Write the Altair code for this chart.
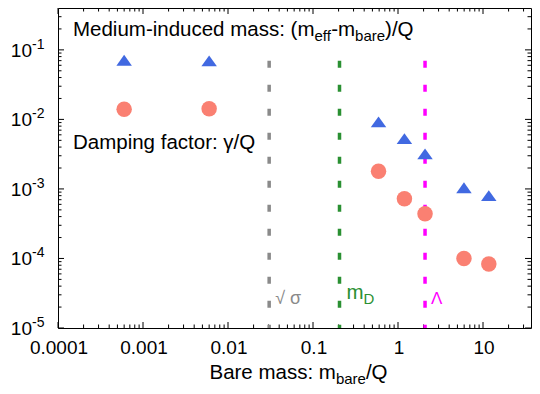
import math
import altair as alt
import pandas as pd

# ---------------- data ----------------
mbare = [6.0e-4, 6.0e-3, 0.59, 1.19, 2.08, 5.97, 11.7]
mass_shift = [0.071, 0.0695, 0.0092, 0.0053, 0.0032, 0.00104, 0.0008]
damping = [0.014, 0.0142, 0.00179, 0.00072, 0.00044, 0.0001, 0.000083]

scale_names = ["sqrt_sigma", "m_D", "Lambda"]
scale_values = [0.0305, 0.205, 2.08]
scale_colors = ["#8a8a8a", "#2a9032", "#ff00ff"]

x_major = [1e-4, 1e-3, 1e-2, 1e-1, 1, 10]
x_labels = ["0.0001", "0.001", "0.01", "0.1", "1", "10"]
y_major = [1e-5, 1e-4, 1e-3, 1e-2, 1e-1]
y_sup = ["-5", "-4", "-3", "-2", "-1"]
minor_mult = [2, 3, 4, 5, 6, 7, 8, 9]

XMIN, XMAX = 1e-4, 36.7
YMIN, YMAX = 1e-5, 0.40
LINE_TOP = 0.07

PW, PH = 473, 320          # plot area
FONT = "Liberation Sans"
FS = 20.5      # main text
FSS = 15       # subscripts
FT = 19        # tick labels

W = {' ': .278, '(': .333, ')': .333, '-': .333, '/': .278, ':': .278, 'B': .667,
     'D': .722, 'M': .833, 'Q': .778, 'a': .556, 'b': .556, 'c': .5, 'd': .556,
     'e': .556, 'f': .278, 'i': .222, 'm': .833, 'n': .556, 'r': .333, 's': .5,
     'u': .556, 't': .278}


def tw(s, size):
    return sum(W.get(c, .556) for c in s) * size


xs = alt.Scale(type="log", domain=[XMIN, XMAX], nice=False)
ys = alt.Scale(type="log", domain=[YMIN, YMAX], nice=False)


def X(f):
    return alt.X(f, type="quantitative", scale=xs, axis=None)


def Y(f):
    return alt.Y(f, type="quantitative", scale=ys, axis=None)


pts = pd.DataFrame({"m": mbare, "shift": mass_shift, "gamma": damping})

layers = []

# inward ticks on all four sides, as short segments (length turned into a log factor)
ppd_x = PW / math.log10(XMAX / XMIN)
ppd_y = PH / math.log10(YMAX / YMIN)
x_minor = [m * dec for dec in x_major for m in minor_mult if m * dec < XMAX]
y_minor = [m * dec for dec in y_major for m in minor_mult if m * dec < YMAX]
seg = {"a": [], "a2": [], "b": [], "b2": []}
for vals, ln in [(x_major, 6), (x_minor, 3.5)]:
    f = 10 ** (ln / ppd_y)
    for v in vals:
        for yy, yy2 in [(YMIN, YMIN * f), (YMAX, YMAX / f)]:
            seg["a"].append(v); seg["a2"].append(v)
            seg["b"].append(yy); seg["b2"].append(yy2)
for vals, ln in [(y_major, 6), (y_minor, 3.5)]:
    f = 10 ** (ln / ppd_x)
    for v in vals:
        for xx, xx2 in [(XMIN, XMIN * f), (XMAX, XMAX / f)]:
            seg["a"].append(xx); seg["a2"].append(xx2)
            seg["b"].append(v); seg["b2"].append(v)
ticks = pd.DataFrame(seg)
layers.append(alt.Chart(ticks).mark_rule(color="black", strokeWidth=1, opacity=1).encode(
    x=X("a:Q"), x2="a2:Q", y=Y("b:Q"), y2="b2:Q"))

# dashed vertical lines
lines = pd.DataFrame({"x": scale_values, "top": [LINE_TOP] * 3, "bot": [YMIN] * 3,
                      "name": scale_names})
for i, nm in enumerate(scale_names):
    layers.append(
        alt.Chart(lines[lines.name == nm]).mark_rule(
            color=scale_colors[i], strokeWidth=3.5, strokeDash=[7, 17]
        ).encode(x=X("x:Q"), y=Y("top:Q"), y2="bot:Q")
    )

# data points
layers.append(alt.Chart(pts).mark_point(
    shape="M-1,0.7L1,0.7L0,-0.7Z", filled=True, color="#4169e1", opacity=1, size=240
).encode(x=X("m:Q"), y=Y("shift:Q")))
layers.append(alt.Chart(pts).mark_point(
    shape="circle", filled=True, color="#fa8072", opacity=1, size=240
).encode(x=X("m:Q"), y=Y("gamma:Q")))


# composite texts (with subscripts)
def composite(pieces, x, y, color="black", start_dx=0.0, base_dy=0.0, fs=FS, fss=FSS):
    out = []
    dx = start_dx
    for txt, sub in pieces:
        size = fss if sub else fs
        d = pd.DataFrame({"x": [x], "y": [y], "t": [txt]})
        out.append(alt.Chart(d).mark_text(
            align="left", baseline="alphabetic", font=FONT, fontSize=size,
            color=color, dx=dx, dy=base_dy + (5 if sub else 0)
        ).encode(x=X("x:Q"), y=Y("y:Q"), text="t:N"))
        dx += tw(txt, size)
    return out


top_label = [("Medium-induced mass: (m", False), ("eff", True), ("-m", False),
             ("bare", True), (")/Q", False)]
layers += composite(top_label, 1.5e-4, 0.16)
layers += composite([("Damping factor: \u03b3/Q", False)], 1.5e-4, 0.0037)

# x tick labels
xl = pd.DataFrame({"x": x_major, "y": [YMIN] * len(x_major), "t": x_labels})
layers.append(alt.Chart(xl).mark_text(align="center", baseline="alphabetic", font=FONT,
              fontSize=FT, color="black", dx=1, dy=26).encode(
              x=X("x:Q"), y=Y("y:Q"), text="t:N"))

# x title, centred below the plot (centre of the reference frame)
title_pieces = [("Bare mass: m", False), ("bare", True), ("/Q", False)]
tw_total = sum(tw(t, FSS if s else FS) for t, s in title_pieces)
xc = (XMIN * 45.6) ** 0.5
layers += composite(title_pieces, xc, YMIN, start_dx=-tw_total / 2, base_dy=51)

# scale labels next to the dashed lines
lab_y = 2.5e-5
d = pd.DataFrame({"x": [scale_values[0]], "y": [lab_y], "t": ["\u221a \u03c3"]})
layers.append(alt.Chart(d).mark_text(align="left", baseline="alphabetic", font=FONT,
              fontSize=18, color=scale_colors[0], dx=6, dy=4).encode(
              x=X("x:Q"), y=Y("y:Q"), text="t:N"))
layers += composite([("m", False), ("D", True)], scale_values[1], lab_y,
                    color=scale_colors[1], start_dx=7, base_dy=-1)
d = pd.DataFrame({"x": [scale_values[2]], "y": [lab_y], "t": ["\u039b"]})
layers.append(alt.Chart(d).mark_text(align="left", baseline="alphabetic", font=FONT,
              fontSize=17, color=scale_colors[2], dx=6, dy=4).encode(
              x=X("x:Q"), y=Y("y:Q"), text="t:N"))

# y tick labels 10^k
yl = pd.DataFrame({"x": [XMIN] * len(y_major), "y": y_major, "t": ["10"] * len(y_major),
                   "s": y_sup})
layers.append(alt.Chart(yl).mark_text(align="right", baseline="alphabetic", font=FONT,
              fontSize=FT, color="black", dx=-26, dy=7).encode(
              x=X("x:Q"), y=Y("y:Q"), text="t:N"))
layers.append(alt.Chart(yl).mark_text(align="left", baseline="alphabetic", font=FONT,
              fontSize=14, color="black", dx=-26, dy=-1).encode(
              x=X("x:Q"), y=Y("y:Q"), text="s:N"))

chart = alt.layer(*layers).properties(
    width=PW, height=PH,
    autosize=alt.AutoSizeParams(type="none"),
    padding={"left": 50, "top": 0, "right": 1, "bottom": 58},
).configure_view(stroke="black", strokeWidth=1)

chart.save("out.html", embed_options={"renderer": "svg", "actions": False})
